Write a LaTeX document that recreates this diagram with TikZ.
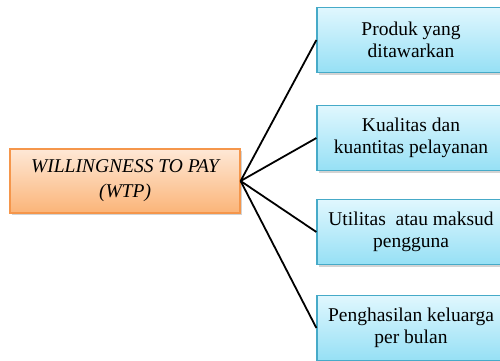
\documentclass[tikz,border=0pt]{standalone}
\usepackage{fontspec}
\setmainfont{Liberation Serif}
\usetikzlibrary{shadows}
\definecolor{wtpline}{RGB}{245,150,75}
\definecolor{wtptop}{RGB}{254,232,214}
\definecolor{wtpbot}{RGB}{251,180,120}
\definecolor{itemline}{RGB}{70,170,200}
\definecolor{itemtop}{RGB}{224,247,254}
\definecolor{itembot}{RGB}{150,224,245}

\begin{document}
\begin{tikzpicture}[x=1pt, y=-1pt,
    wtpbox/.style={draw=wtpline, line width=1.2pt, top color=wtptop, bottom color=wtpbot,
        minimum width=230pt, minimum height=64pt, align=center,
        drop shadow={shadow xshift=1.5pt, shadow yshift=-2pt, opacity=0.35},
        font=\fontsize{19.5}{25}\selectfont\itshape},
    itembox/.style={draw=itemline, line width=1.2pt, top color=itemtop, bottom color=itembot,
        minimum width=188pt, minimum height=65pt, align=center,
        drop shadow={shadow xshift=1.5pt, shadow yshift=-2pt, opacity=0.35},
        font=\fontsize{19.5}{22}\selectfont},
    link/.style={line width=1.8pt, black}]
    \useasboundingbox (0,0) rectangle (500,360);
    \clip (0,0) rectangle (500,360);
    \node[wtpbox] at (125,181) (W) {WILLINGNESS TO PAY\\(WTP)};
    \node[itembox] at (411,40) (K1) {Produk yang\\ditawarkan};
    \node[itembox] at (411,138) (K2) {Kualitas dan\\kuantitas pelayanan};
    \node[itembox] at (411,232) (K3) {Utilitas~ atau maksud\\pengguna};
    \node[itembox] at (411,328) (K4) {Penghasilan keluarga\\per bulan};
    \draw[link] (W.east) -- (K1.west);
    \draw[link] (W.east) -- (K2.west);
    \draw[link] (W.east) -- (K3.west);
    \draw[link] (W.east) -- (K4.west);
\end{tikzpicture}
\end{document}
